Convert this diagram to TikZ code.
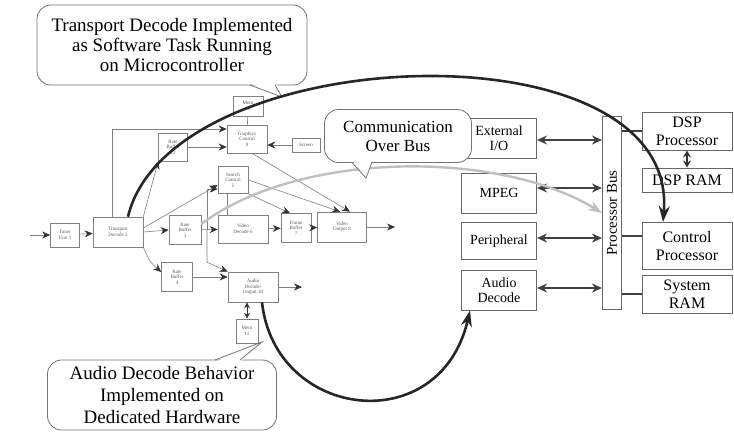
\documentclass[tikz,border=0pt]{standalone}
\usepackage{fontspec}
\setmainfont{Liberation Serif}
\usetikzlibrary{arrows.meta,positioning,calc}

\tikzset{
  blk/.style={draw=black!50,line width=0.6pt,fill=white,align=center,inner sep=1pt,
    text=black!65,font=\fontsize{5}{5.5}\selectfont},
  flow/.style={-{Stealth[length=8pt,width=7pt,color=black!80]},draw=black!50,line width=0.6pt},
  link/.style={draw=black!50,line width=0.6pt},
  unit/.style={draw=black!60,line width=1pt,fill=white,minimum width=75pt,minimum height=40pt,
    align=center,font=\fontsize{14}{15}\selectfont},
  cpu/.style={draw=black!60,line width=1pt,minimum width=90pt,align=center,
    font=\fontsize{16}{18}\selectfont},
  busarrow/.style={{Stealth[length=10pt,width=9pt]}-{Stealth[length=10pt,width=9pt]},
    draw=black!75,line width=1.6pt},
  tie/.style={draw=black!75,line width=1.6pt},
  callout/.style={draw=black!55,line width=0.8pt,fill=white,rounded corners=14pt,align=center},
  bigarc/.style={-{Stealth[length=16pt,width=11pt]},draw=black!85,line width=2.6pt},
  grayarc/.style={-{Stealth[length=14pt,width=10pt]},draw=black!25,line width=2.4pt}
}

\begin{document}
\begin{tikzpicture}[x=1pt,y=-1pt]
  \useasboundingbox (0,0) rectangle (734,432);

  % task graph on the left
  \node[blk,minimum width=29pt,minimum height=24pt] (tuner) at (65,235) {Tuner\\Unit 1};
  \node[blk,minimum width=50pt,minimum height=30pt] (trans) at (118,232) {Transport\\Decode 2};
  \node[blk,minimum width=32pt,minimum height=29pt] (rbv) at (185,230) {Rate\\Buffer\\3};
  \node[blk,minimum width=50pt,minimum height=28pt] (vdec) at (243,229) {Video\\Decode 6};
  \node[blk,minimum width=30pt,minimum height=29pt] (fbuf) at (296,228) {Frame\\Buffer\\7};
  \node[blk,minimum width=49pt,minimum height=30pt] (vout) at (342,227) {Video\\Output 8};
  \node[blk,minimum width=31pt,minimum height=29pt] (rba) at (177,277) {Rate\\Buffer\\4};
  \node[blk,minimum width=50pt,minimum height=30pt] (adec) at (253,287) {Audio\\Decode/\\Output 10};
  \node[blk,minimum width=22pt,minimum height=24pt] (mem11) at (247,331) {Mem\\11};
  \node[blk,minimum width=30pt,minimum height=27pt] (search) at (233,180) {Search\\Control\\5};
  \node[blk,minimum width=40pt,minimum height=28pt] (gfx) at (247,139) {Graphics\\Control\\9};
  \node[blk,minimum width=28pt,minimum height=14pt] (screen) at (306,145) {Screen};
  \node[blk,minimum width=30pt,minimum height=20pt] (mem13) at (248,106) {Mem\\13};
  \node[blk,minimum width=29pt,minimum height=28pt] (rbt) at (173,147) {Rate\\Buffer\\12};

  \coordinate (vin) at (30,235);
  \coordinate (vend) at (395,227);
  \coordinate (aend) at (302,287);
  \coordinate (split) at (207,230);

  \draw[flow] (vin) -- (tuner.west);
  \draw[flow] (tuner) -- (trans);
  \draw[flow] (trans.east) -- (rbv.west);
  \draw[flow] (rbv) -- (vdec);
  \draw[flow] (vdec) -- (fbuf);
  \draw[flow] (fbuf) -- (vout);
  \draw[flow] (vout) -- (vend);
  \draw[flow] (trans.south east) .. controls (150,262) .. ([yshift=5pt]rba.west);
  \draw[flow] ([yshift=4pt]trans.east) -- ([yshift=-5pt]search.west);
  \draw[flow] (split) |- ([yshift=-9pt]search.west);
  \draw[flow] (split) -- (split |- rba.north) -- (adec.north west);
  \draw[link] ([xshift=-6pt]search.south) -- ([xshift=-6pt]search.south |- vdec.north);
  \draw[flow] (search.south east) -- ([xshift=-6pt]fbuf.north);
  \draw[flow] (search.east) -- ([xshift=-2pt]vout.north);
  \draw[flow] ([xshift=5pt]gfx.south) -- ([xshift=8pt]vout.north);
  \draw[flow] ([xshift=-6pt]trans.north) |- ([yshift=10pt]gfx.west);
  \draw[flow] (rbt.east) -- (rbt.east -| gfx.west);
  \draw[flow] (screen.west) -- (screen.west -| gfx.east);
  \draw[link] (mem13) -- (gfx);
  \draw[flow] (trans.north east) -- (rbt.south west);
  \draw[flow] (rba.east) -- (rba.east -| adec.west);
  \draw[flow] (adec) -- (aend);
  \draw[{Stealth[length=6pt,width=6pt]}-{Stealth[length=6pt,width=6pt]},draw=black!80,line width=1pt]
    (adec.south -| mem11) -- (mem11.north);

  % architecture on the right
  \node[unit] (extio) at (499,138) {External\\I/O};
  \node[unit] (mpeg) at (499,193) {MPEG};
  \node[unit,minimum height=37pt] (periph) at (499,241) {Peripheral};
  \node[unit] (audio) at (499,290) {Audio\\Decode};
  \node[draw=black!60,line width=1pt,minimum width=19pt,minimum height=193pt] (bus) at (612,213) {};
  \node[rotate=90,font=\fontsize{15}{16}\selectfont] (buslabel) at (bus) {Processor Bus};
  \node[cpu,minimum height=38pt] (dsp) at (687,131) {DSP\\Processor};
  \node[cpu,minimum height=24pt] (dspram) at (687,180) {DSP RAM};
  \node[cpu,minimum height=47pt] (ctrl) at (687,246) {Control\\Processor};
  \node[cpu,minimum height=38pt] (sysram) at (687,294) {System\\RAM};

  \draw[busarrow] ([yshift=-2pt]extio.east) -- ([yshift=-2pt]extio.east -| bus.west);
  \draw[busarrow] ([yshift=5pt]mpeg.east) -- ([yshift=5pt]mpeg.east -| bus.west);
  \draw[busarrow] ([yshift=3pt]periph.east) -- ([yshift=3pt]periph.east -| bus.west);
  \draw[busarrow] ([yshift=2pt]audio.east) -- ([yshift=2pt]audio.east -| bus.west);
  \draw[tie] (dsp.west -| bus.east) -- (dsp.west);
  \draw[tie] ([yshift=10pt]ctrl.west -| bus.east) -- ([yshift=10pt]ctrl.west);
  \draw[tie] (sysram.west -| bus.east) -- (sysram.west);
  \draw[{Stealth[length=7pt,width=8pt]}-{Stealth[length=7pt,width=8pt]},draw=black!80,line width=1.6pt]
    (dsp.south) -- (dspram.north);

  % bus traffic
  \draw[grayarc] ([yshift=6pt]rbv.east) .. controls (300,150) and (500,150) .. (bus.west);

  % notes
  \node[callout,minimum width=270pt,minimum height=80pt,font=\fontsize{19}{20}\selectfont]
    (swnote) at (172,45) {Transport Decode Implemented\\as Software Task Running\\on Microcontroller};
  \fill[white] (250,83) -- (282,97) -- (275,83) -- cycle;
  \draw[draw=black!55,line width=0.8pt] (250,85) -- (282,97) -- (275,85);

  \node[callout,minimum width=147pt,minimum height=53pt,font=\fontsize{17}{19}\selectfont]
    (busnote) at (398,136) {Communication\\Over Bus};
  \fill[white] (352,160) -- (366,178) -- (372,160) -- cycle;
  \draw[draw=black!55,line width=0.8pt] (352,162.5) -- (366,178) -- (372,162.5);

  \node[callout,minimum width=229pt,minimum height=70pt,font=\fontsize{19}{22}\selectfont]
    (hwnote) at (162,395) {Audio Decode Behavior\\Implemented on\\Dedicated Hardware};
  \fill[white] (215,362) -- (262,342) -- (240,362) -- cycle;
  \draw[draw=black!55,line width=0.8pt] (215,360) -- (262,342) -- (240,360);

  % mapping arcs
  \draw[bigarc] ([xshift=10pt]trans.north) .. controls (170,40) and (680,20) .. ([xshift=-24pt]ctrl.north);
  \draw[bigarc] ([xshift=9pt]adec.south) .. controls (275,420) and (440,440) .. ([xshift=-29pt]audio.south);
\end{tikzpicture}
\end{document}
